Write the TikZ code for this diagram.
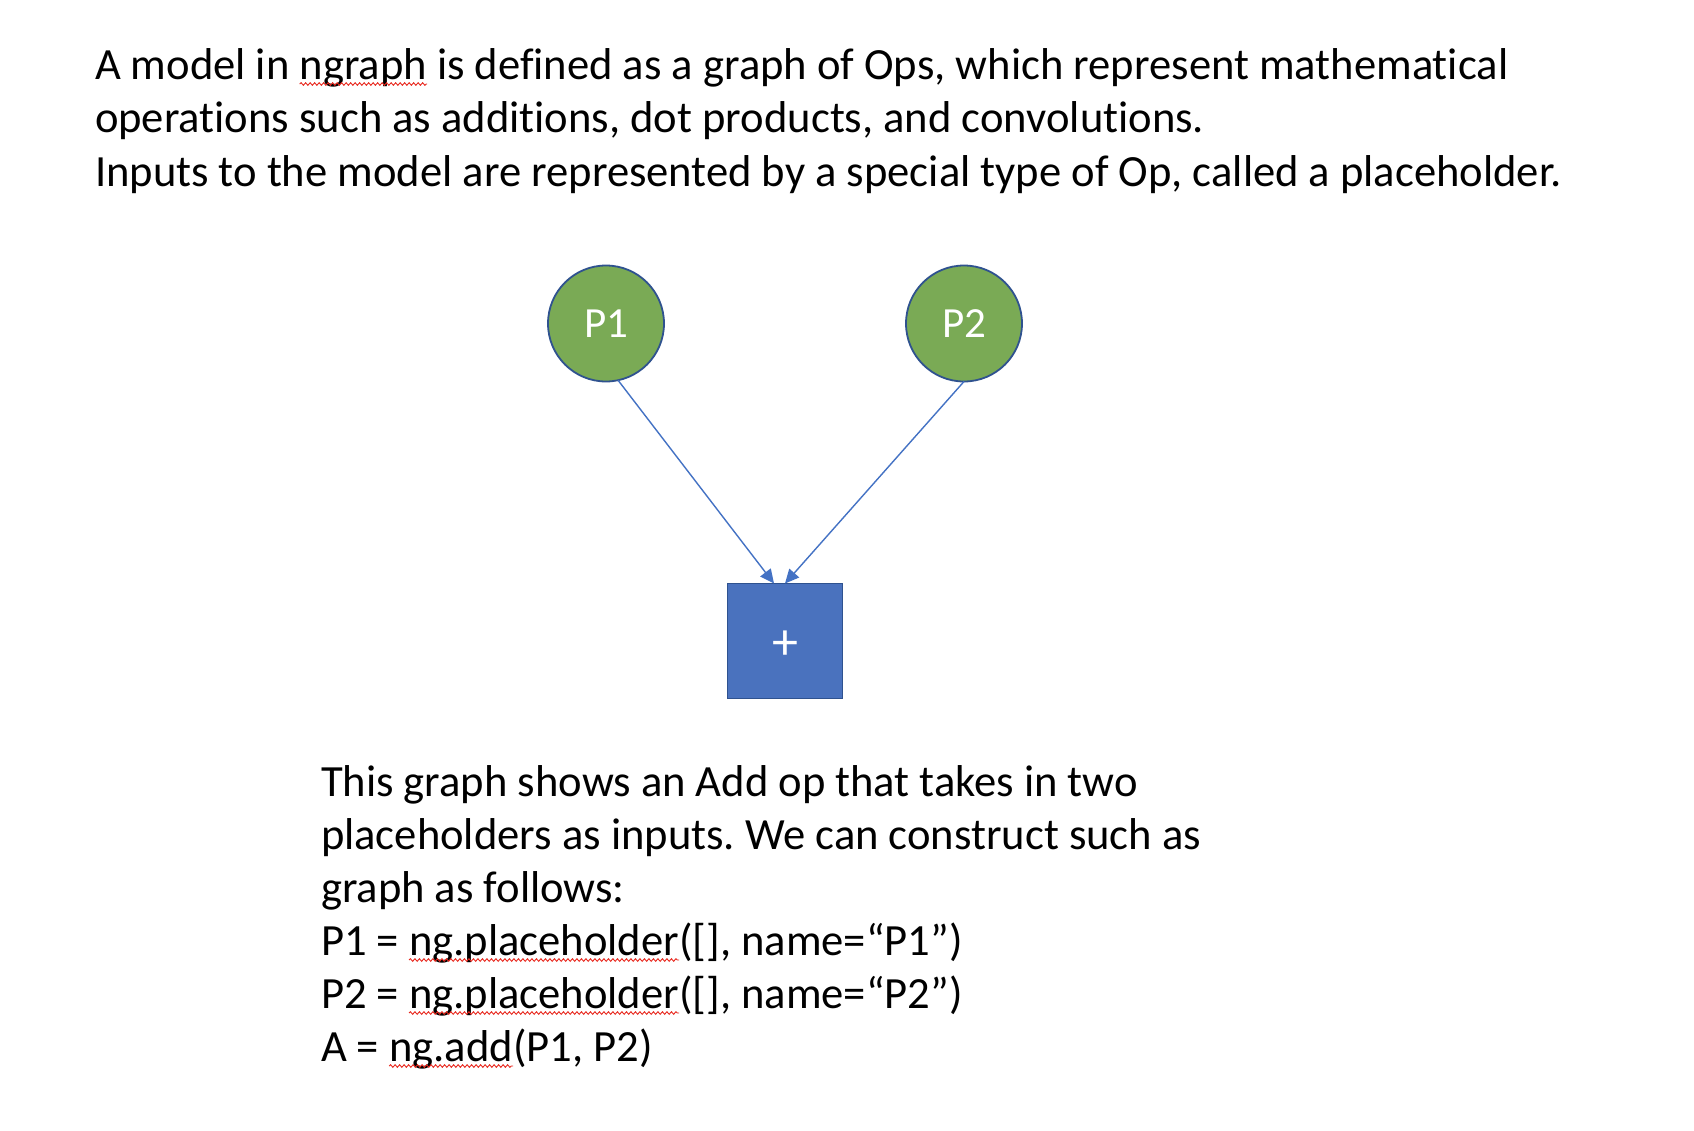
\documentclass[tikz,border=0pt]{standalone}
\usepackage{fontspec}
\setmainfont{Carlito}[Ligatures={NoCommon}]
\usetikzlibrary{arrows.meta,decorations.pathmorphing}
\definecolor{opgreen}{RGB}{122,170,85}
\definecolor{opblue}{RGB}{74,114,190}
\definecolor{opedge}{RGB}{47,82,143}
\definecolor{arrowblue}{RGB}{68,114,196}
\definecolor{squigred}{RGB}{232,40,30}
\frenchspacing
\begin{document}
\begin{tikzpicture}[x=1pt,y=-1pt,
  txt/.style={inner sep=0pt, outer sep=0pt, anchor=base west, font=\fontsize{44.6}{52}\selectfont},
  place/.style={circle, draw=opedge, line width=1.8pt, fill=opgreen, minimum size=116pt, inner sep=0pt, outer sep=0pt, text=white, font=\fontsize{43}{50}\selectfont},
  opbox/.style={rectangle, draw=opedge, line width=1.8pt, fill=opblue, minimum size=115pt, inner sep=0pt, outer sep=0pt, text=white, font=\fontsize{52}{60}\selectfont},
  link/.style={draw=arrowblue, line width=1.4pt, -{Triangle[length=14pt,width=13pt]}},
  squig/.style={draw=squigred, line width=0.9pt, decorate, decoration={snake, amplitude=1.3pt, segment length=4.5pt}}]
\useasboundingbox[fill=white] (0,0) rectangle (1694,1130);

% top paragraph
\node[txt] (t1a) at (95,79) {A model in\ \null};
\node[txt] (t1b) at (t1a.base east) {ngraph};
\node[txt] (t1c) at (t1b.base east) {\null\ is defined as a graph of Ops, which represent mathematical};
\node[txt] (t2) at (95,132.5) {operations such as additions, dot products, and convolutions.};
\node[txt] (t3) at (95,186) {Inputs to the model are represented by a special type of Op, called a placeholder.};
\draw[squig] ([yshift=-5pt]t1b.base west) -- ([yshift=-5pt]t1b.base east);

% graph
\node[place] (P1) at (606,323.5) {P1};
\node[place] (P2) at (964,323.5) {P2};
\node[opbox] (add) at (785,641) {\raisebox{-4.5pt}[\height][\depth]{+}};
\draw[link] (P1.-78) -- ([xshift=-11pt]add.north);
\draw[link] (P2.south) -- (add.north);

% bottom paragraph
\node[txt] (b1) at (321,796) {This graph shows an Add op that takes in two};
\node[txt] (b2) at (321,849) {placeholders as inputs. We can construct such as};
\node[txt] (b3) at (321,902) {graph as follows:};
\node[txt] (b4a) at (321,955) {P1 =\ \null};
\node[txt] (b4b) at (b4a.base east) {ng.placeholder};
\node[txt] (b4c) at (b4b.base east) {([], name=“P1”)};
\node[txt] (b5a) at (321,1008) {P2 =\ \null};
\node[txt] (b5b) at (b5a.base east) {ng.placeholder};
\node[txt] (b5c) at (b5b.base east) {([], name=“P2”)};
\node[txt] (b6a) at (321,1061) {A =\ \null};
\node[txt] (b6b) at (b6a.base east) {ng.add};
\node[txt] (b6c) at (b6b.base east) {(P1, P2)};
\draw[squig] ([yshift=-5pt]b4b.base west) -- ([yshift=-5pt]b4b.base east);
\draw[squig] ([yshift=-5pt]b5b.base west) -- ([yshift=-5pt]b5b.base east);
\draw[squig] ([yshift=-5pt]b6b.base west) -- ([yshift=-5pt]b6b.base east);
\end{tikzpicture}
\end{document}
